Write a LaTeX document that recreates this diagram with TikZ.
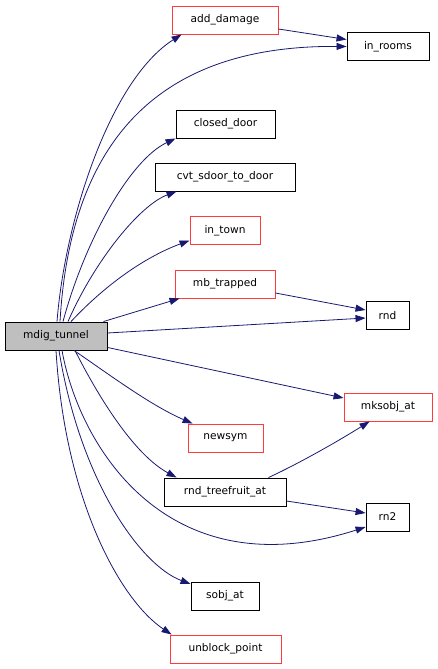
\documentclass[tikz,border=0pt]{standalone}
\usepackage{fontspec}
\setmainfont{DejaVu Sans}
\usetikzlibrary{arrows.meta,calc}
\definecolor{edgeblue}{RGB}{25,25,112}
\definecolor{boxred}{RGB}{255,60,60}
\definecolor{boxgray}{RGB}{191,191,191}
\tikzset{
  fn/.style={draw=black,line width=0.9pt,minimum height=28pt,inner sep=0pt,font=\fontsize{10.6}{12}\selectfont},
  fnred/.style={fn,draw=boxred},
  fnmain/.style={fn,fill=boxgray},
  call/.style={draw=edgeblue,line width=0.8pt,-{Triangle[length=10pt,width=7pt]}}
}
\begin{document}
\begin{tikzpicture}[x=1pt,y=-1pt]
\useasboundingbox (0,0) rectangle (437,669);
\node[fnmain,minimum width=102pt] (mdig) at (56,336) {mdig\_tunnel};
\node[fnred,minimum width=106pt] (adddamage) at (225,20) {add\_damage};
\node[fn,minimum width=82pt] (inrooms) at (388,46.5) {in\_rooms};
\node[fn,minimum width=99pt] (closeddoor) at (225.5,124) {closed\_door};
\node[fn,minimum width=140pt] (cvt) at (225,177) {cvt\_sdoor\_to\_door};
\node[fnred,minimum width=70pt] (intown) at (225,230.5) {in\_town};
\node[fnred,minimum width=100pt] (mbtrapped) at (225,284) {mb\_trapped};
\node[fn,minimum width=43pt] (rnd) at (387.5,315.5) {rnd};
\node[fnred,minimum width=88pt] (mksobj) at (388,407) {mksobj\_at};
\node[fnred,minimum width=75pt] (newsym) at (225.5,438) {newsym};
\node[fn,minimum width=122pt] (treefruit) at (225,492) {rnd\_treefruit\_at};
\node[fn,minimum width=43pt] (rntwo) at (387.5,517) {rn2};
\node[fn,minimum width=68pt] (sobjat) at (225,596) {sobj\_at};
\node[fnred,minimum width=111pt] (unblock) at (225.5,649) {unblock\_point};

% from mdig_tunnel
\draw[call] ($(mdig.north)+(1,0)$) .. controls (65,220) and (110,80) .. ($(adddamage.south west)+(10,0)$);
\draw[call] ($(mdig.north)+(4,0)$) .. controls (70,150) and (150,45) .. (inrooms.west);
\draw[call] ($(mdig.north)+(7,0)$) .. controls (85,240) and (130,160) .. (closeddoor.south west);
\draw[call] ($(mdig.north)+(12,0)$) .. controls (95,260) and (140,205) .. ($(cvt.south west)+(22,0)$);
\draw[call] ($(mdig.north)+(15,0)$) .. controls (110,280) and (150,255) .. ($(intown.west)+(0,10)$);
\draw[call] ($(mdig.north east)+(-4,0)$) -- ($(mbtrapped.south west)+(5,0)$);
\draw[call] ($(mdig.east)+(0,-3)$) -- ($(rnd.west)+(0,2.5)$);
\draw[call] ($(mdig.south east)+(0,-3)$) -- ($(mksobj.west)+(0,-9)$);
\draw[call] ($(mdig.south)+(18,0)$) .. controls (110,375) and (150,405) .. ($(newsym.north west)+(5,0)$);
\draw[call] ($(mdig.south)+(19,0)$) .. controls (100,400) and (135,455) .. ($(treefruit.north west)+(13,0)$);
\draw[call] ($(mdig.south)+(6,0)$) .. controls (80,450) and (170,590) .. ($(rntwo.west)+(0,10)$);
\draw[call] ($(mdig.south)+(3,0)$) .. controls (80,480) and (140,565) .. ($(sobjat.west)+(0,-12)$);
\draw[call] ($(mdig.south)+(0,0)$) .. controls (65,500) and (120,600) .. ($(unblock.north west)+(2,0)$);
% others
\draw[call] ($(adddamage.east)+(0,9)$) -- ($(inrooms.west)+(0,-7)$);
\draw[call] ($(mbtrapped.east)+(0,9)$) -- ($(rnd.west)+(0,-5.5)$);
\draw[call] ($(treefruit.north east)+(-18,0)$) .. controls (300,463) and (340,440) .. ($(mksobj.south west)+(26,0)$);
\draw[call] ($(treefruit.east)+(0,9)$) -- ($(rntwo.west)+(0,-4)$);
\end{tikzpicture}
\end{document}
